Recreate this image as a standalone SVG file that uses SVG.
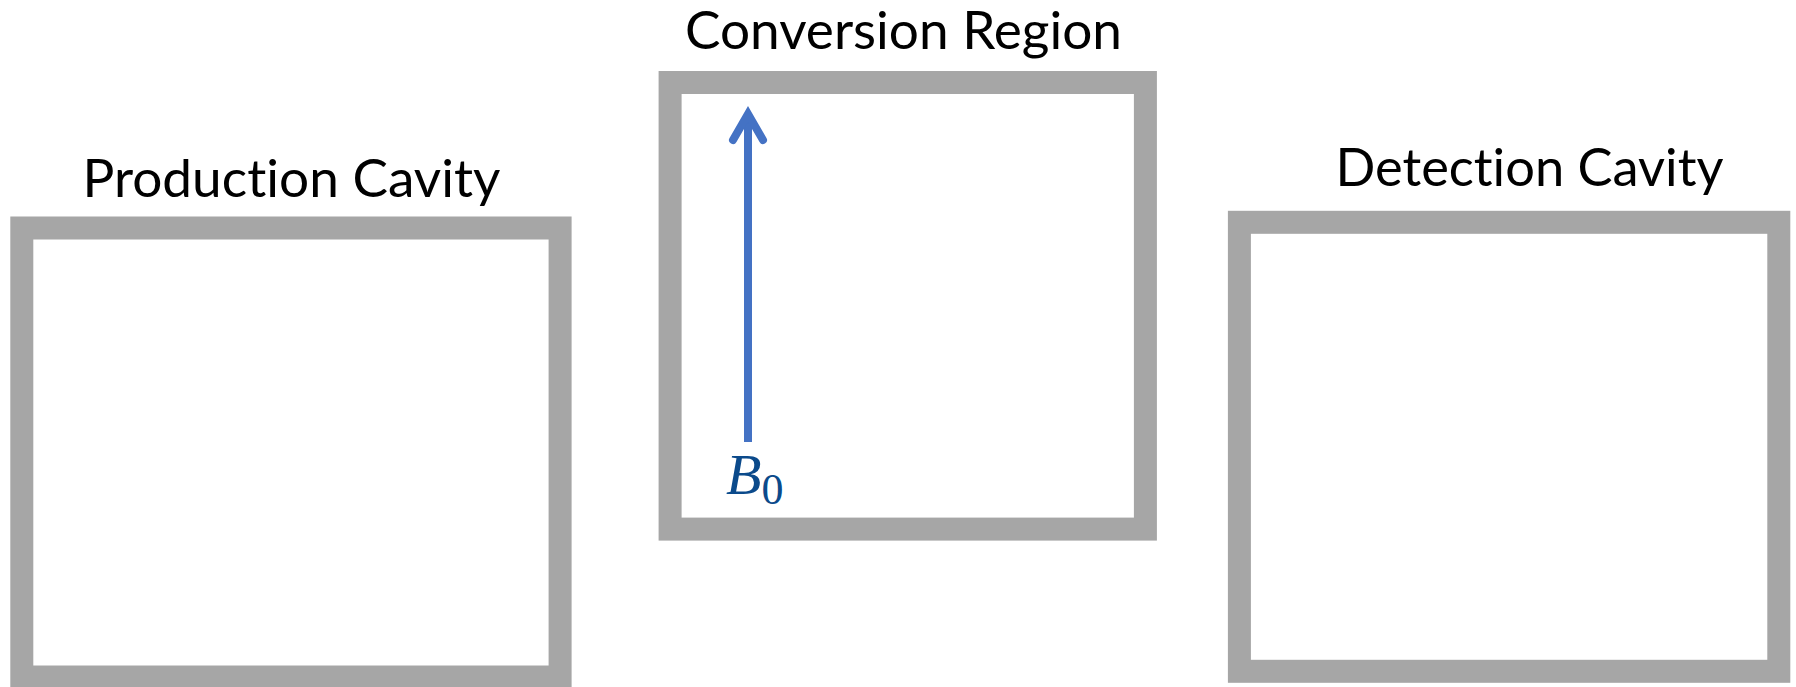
<svg xmlns="http://www.w3.org/2000/svg" width="1796" height="687" viewBox="0 0 1796 687">
<style>
.box{fill:none;stroke:#A6A6A6;stroke-width:23}
.title{font-family:Lato,"Open Sans","Liberation Sans",sans-serif;font-size:53px;fill:#000;font-variant-ligatures:none;font-feature-settings:"liga" 0,"clig" 0}
.math{font-family:"Liberation Serif","DejaVu Serif",serif;font-style:italic;fill:#0B4A8B}
</style>
<rect width="1796" height="687" fill="#fff"/>
<g id="production">
<rect class="box" x="21.8" y="228" width="538.3" height="449"/>
<text class="title" x="82.5" y="197" textLength="418" lengthAdjust="spacingAndGlyphs">Production Cavity</text>
</g>
<g id="conversion">
<rect class="box" x="670.1" y="82.5" width="475.3" height="446.6"/>
<text class="title" x="685" y="49" textLength="437" lengthAdjust="spacingAndGlyphs">Conversion Region</text>
</g>
<g id="detection">
<rect class="box" x="1239.4" y="222.3" width="539.4" height="449"/>
<text class="title" x="1335.5" y="186" textLength="388" lengthAdjust="spacingAndGlyphs">Detection Cavity</text>
</g>
<g id="connectors">
<line x1="748" y1="442" x2="748" y2="114" stroke="#4472C4" stroke-width="8"/>
<polyline points="733,140 748,114 763,140" fill="none" stroke="#4472C4" stroke-width="8" stroke-linecap="round" stroke-linejoin="miter"/>
<text class="math" x="726" y="494" font-size="58">B<tspan font-style="normal" font-size="44" dy="10">0</tspan></text>
</g>
</svg>
